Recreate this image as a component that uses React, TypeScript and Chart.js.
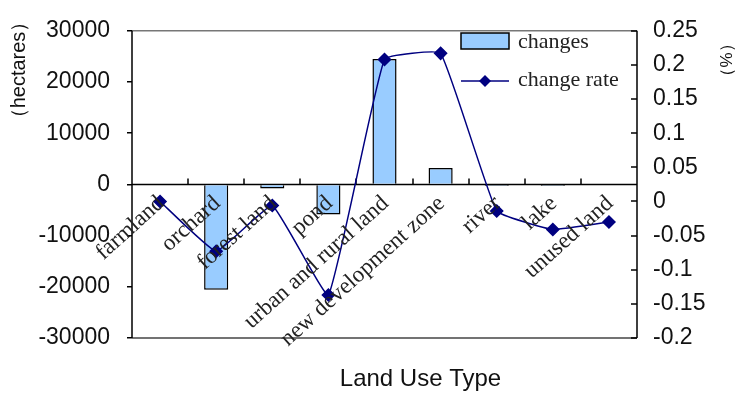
import React, { useEffect, useRef } from "react";
import { Chart, registerables } from "chart.js";

Chart.register(...registerables);

const categories = [
  "farmland",
  "orchard",
  "forest land",
  "pond",
  "urban and rural land",
  "new development zone",
  "river",
  "lake",
  "unused land",
];
const changes = [0, -20600, -800, -5900, 24500, 3200, -300, -300, 0];
const changeRate = [0, -0.073, -0.006, -0.137, 0.208, 0.217, -0.014, -0.041, -0.03];

const leftMin = -30000;
const leftMax = 30000;
const leftStep = 10000;
const rightMin = -0.2;
const rightMax = 0.25;
const rightStep = 0.05;

const leftTitle = "（hectares）";
const rightTitle = "（%）";
const xTitle = "Land Use Type";
const legendLabels = ["changes", "change rate"];

const BAR_FILL = "#99CCFF";
const LINE_COLOR = "#000080";
const SANS = "'Liberation Sans', Arial, sans-serif";
const SERIF = "'Liberation Serif', 'Times New Roman', serif";

const fmtRight = (v: number) => String(Number(v.toFixed(2)));

const decor = {
  id: "decor",
  beforeDatasetsDraw(chart: any) {
    const { ctx, chartArea: a, scales } = chart;
    const y0 = scales.y.getPixelForValue(0);
    const x = scales.x;
    ctx.save();
    ctx.strokeStyle = "#000";
    ctx.lineWidth = 1.5;
    ctx.beginPath();
    ctx.moveTo(a.left, y0);
    ctx.lineTo(a.right, y0);
    ctx.stroke();
    for (let i = 1; i < categories.length; i++) {
      const px = Math.round((x.getPixelForValue(i - 1) + x.getPixelForValue(i)) / 2);
      ctx.beginPath();
      ctx.moveTo(px, y0 - 6);
      ctx.lineTo(px, y0);
      ctx.stroke();
    }
    ctx.restore();
  },
  afterDraw(chart: any) {
    const { ctx, chartArea: a, scales } = chart;
    const y0 = scales.y.getPixelForValue(0);
    const x = scales.x;
    const y1 = scales.y1;
    ctx.save();
    // frame
    ctx.lineWidth = 1.5;
    ctx.strokeStyle = "#777";
    ctx.beginPath();
    ctx.moveTo(a.left, a.top);
    ctx.lineTo(a.right, a.top);
    ctx.stroke();
    ctx.strokeStyle = "#444";
    ctx.beginPath();
    ctx.moveTo(a.left, a.bottom);
    ctx.lineTo(a.right, a.bottom);
    ctx.stroke();
    ctx.strokeStyle = "#000";
    ctx.beginPath();
    ctx.moveTo(a.left, a.top);
    ctx.lineTo(a.left, a.bottom);
    ctx.moveTo(a.right, a.top);
    ctx.lineTo(a.right, a.bottom);
    ctx.stroke();
    // right axis inner ticks
    for (let v = rightMin; v <= rightMax + 1e-9; v += rightStep) {
      const py = Math.round(y1.getPixelForValue(v));
      ctx.beginPath();
      ctx.moveTo(a.right - 6, py);
      ctx.lineTo(a.right, py);
      ctx.stroke();
    }
    // category labels
    ctx.fillStyle = "#222";
    ctx.font = `23px ${SERIF}`;
    ctx.textAlign = "right";
    ctx.textBaseline = "middle";
    categories.forEach((c, i) => {
      const px = x.getPixelForValue(i);
      ctx.save();
      ctx.translate(px + 1, y0 + 16);
      ctx.rotate((-42 * Math.PI) / 180);
      ctx.fillText(c, 0, 0);
      ctx.restore();
    });
    // axis titles
    ctx.fillStyle = "#111";
    ctx.textAlign = "center";
    ctx.font = `24px ${SANS}`;
    ctx.fillText(xTitle, (a.left + a.right) / 2 + 36, 379);
    ctx.font = `20px ${SANS}`;
    ctx.save();
    ctx.translate(19, 70);
    ctx.rotate(-Math.PI / 2);
    ctx.fillText(leftTitle, 0, 0);
    ctx.restore();
    ctx.font = `17px ${SANS}`;
    ctx.save();
    ctx.translate(727, 60);
    ctx.rotate(-Math.PI / 2);
    ctx.fillText(rightTitle, 0, 0);
    ctx.restore();
    // legend
    ctx.fillStyle = BAR_FILL;
    ctx.fillRect(461, 33, 48, 16);
    ctx.strokeStyle = "#000";
    ctx.lineWidth = 1.5;
    ctx.strokeRect(461, 33, 48, 16);
    ctx.strokeStyle = LINE_COLOR;
    ctx.beginPath();
    ctx.moveTo(461, 81);
    ctx.lineTo(509, 81);
    ctx.stroke();
    ctx.fillStyle = LINE_COLOR;
    ctx.beginPath();
    ctx.moveTo(485, 75);
    ctx.lineTo(491, 81);
    ctx.lineTo(485, 87);
    ctx.lineTo(479, 81);
    ctx.closePath();
    ctx.fill();
    ctx.fillStyle = "#222";
    ctx.font = `22px ${SERIF}`;
    ctx.textAlign = "left";
    ctx.textBaseline = "middle";
    ctx.fillText(legendLabels[0], 518, 42);
    ctx.fillText(legendLabels[1], 518, 80);
    ctx.restore();
  },
};

export default function App() {
  const ref = useRef<HTMLCanvasElement>(null);
  useEffect(() => {
    if (!ref.current) return;
    const chart = new Chart(ref.current, {
      type: "bar",
      data: {
        labels: categories,
        datasets: [
          {
            type: "line",
            label: legendLabels[1],
            data: changeRate,
            yAxisID: "y1",
            borderColor: LINE_COLOR,
            backgroundColor: LINE_COLOR,
            borderWidth: 1.5,
            pointStyle: "rectRot",
            pointRadius: 6,
            pointBackgroundColor: LINE_COLOR,
            pointBorderColor: LINE_COLOR,
            tension: 0.1,
            order: 0,
          } as any,
          {
            type: "bar",
            label: legendLabels[0],
            data: changes,
            yAxisID: "y",
            backgroundColor: BAR_FILL,
            borderColor: "#000",
            borderWidth: 1.5,
            categoryPercentage: 1,
            barPercentage: 0.43,
            order: 1,
          } as any,
        ],
      },
      options: {
        responsive: false,
        maintainAspectRatio: false,
        animation: false,
        layout: { padding: { top: 20, bottom: 61, left: 0, right: 0 } },
        plugins: { legend: { display: false }, tooltip: { enabled: false } },
        scales: {
          x: { display: false, offset: true },
          y: {
            position: "left",
            min: leftMin,
            max: leftMax,
            afterFit: (s: any) => {
              s.width = 132;
            },
            ticks: {
              stepSize: leftStep,
              autoSkip: false,
              padding: 17,
              color: "#111",
              font: { family: SANS, size: 23 },
              callback: (v: any) => String(v),
            },
            grid: { drawOnChartArea: false, drawTicks: true, tickLength: 5, color: "#000", lineWidth: 1.5 },
            border: { display: false },
          },
          y1: {
            position: "right",
            min: rightMin,
            max: rightMax,
            afterFit: (s: any) => {
              s.width = 104;
            },
            ticks: {
              stepSize: rightStep,
              autoSkip: false,
              padding: 16,
              color: "#111",
              font: { family: SANS, size: 23 },
              callback: (v: any) => fmtRight(Number(v)),
            },
            grid: { display: false, drawTicks: false },
            border: { display: false },
          },
        },
      },
      plugins: [decor],
    });
    return () => chart.destroy();
  }, []);
  return (
    <div style={{ position: "fixed", left: 0, top: 0, width: 741, height: 399, background: "#fff" }}>
      <canvas ref={ref} width={741} height={399} />
    </div>
  );
}
